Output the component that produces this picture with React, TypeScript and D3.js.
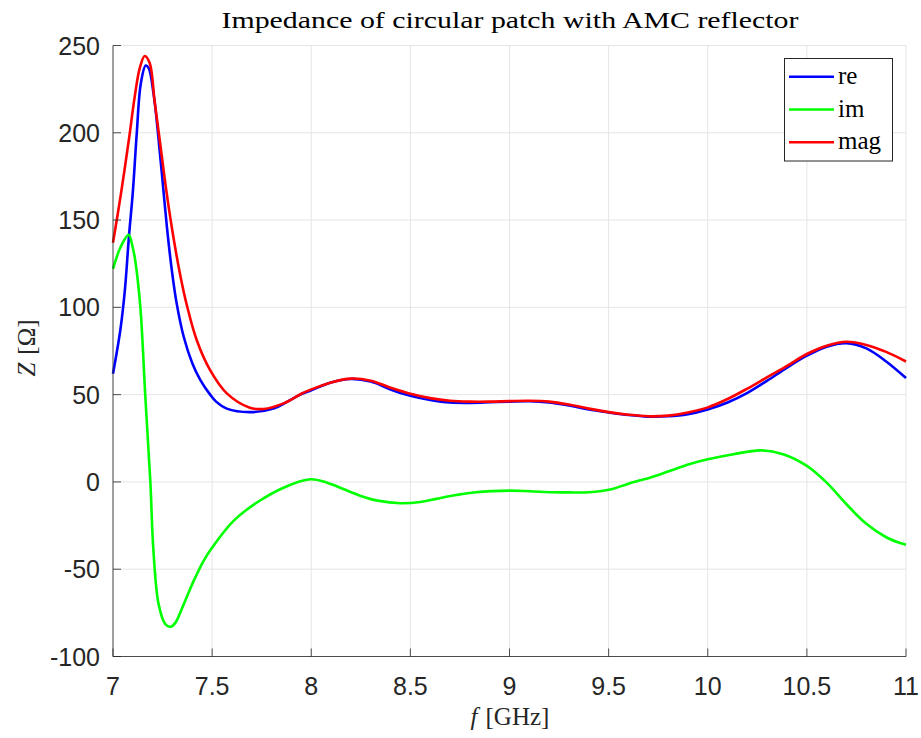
import React from "react";
import * as d3 from "d3";

const title = "Impedance of circular patch with AMC reflector";
const xTicks = [7, 7.5, 8, 8.5, 9, 9.5, 10, 10.5, 11];
const yTicks = [-100, -50, 0, 50, 100, 150, 200, 250];

const reFreq = [7.0, 7.037, 7.06, 7.08, 7.1, 7.12, 7.14, 7.165, 7.18, 7.205, 7.225, 7.247, 7.272, 7.297, 7.32, 7.357, 7.4, 7.44, 7.49, 7.52, 7.574, 7.69, 7.81, 7.88, 7.945, 8.0, 8.1, 8.2, 8.3, 8.4, 8.5, 8.6, 8.7, 8.8, 8.9, 9.0, 9.1, 9.2, 9.3, 9.4, 9.5, 9.6, 9.7, 9.8, 9.9, 10.0, 10.1, 10.2, 10.3, 10.4, 10.5, 10.6, 10.7, 10.8, 10.9, 11.0];
const reVals = [62, 87, 110, 140, 166, 200, 228, 238.5, 237, 222, 202, 176, 146, 121, 103, 83, 68, 58.5, 50, 46, 42, 40, 42, 46, 50, 52.5, 57, 59, 57.5, 53, 49.4, 47, 45.5, 45.3, 45.6, 46, 46.2, 45.5, 43.8, 41.5, 39.8, 38.3, 37.4, 37.6, 38.8, 41.5, 45.5, 51, 58, 65.5, 72.3, 77.5, 79.5, 76.5, 69, 59.5];

const imFreq = [7.0, 7.04, 7.079, 7.1, 7.112, 7.138, 7.163, 7.188, 7.204, 7.23, 7.264, 7.29, 7.315, 7.357, 7.407, 7.457, 7.5, 7.608, 7.726, 7.86, 7.995, 8.08, 8.14, 8.25, 8.335, 8.45, 8.55, 8.63, 8.73, 8.83, 9.0, 9.1, 9.22, 9.3, 9.4, 9.52, 9.6, 9.715, 9.8, 9.91, 10.0, 10.13, 10.265, 10.38, 10.5, 10.6, 10.7, 10.8, 10.9, 10.97, 11.0];
const imVals = [122, 135, 141.5, 134, 127, 100, 49, 1, -39.5, -70, -81.5, -83, -80.6, -70, -56.7, -45.2, -37.6, -22.3, -11.8, -3.3, 1.5, -0.4, -3, -8, -10.7, -12.2, -11.5, -9.7, -7.5, -5.9, -5, -5.3, -5.9, -6, -5.9, -4, -1, 2.7, 6, 10.3, 13, 15.9, 18.1, 15.9, 9.2, -0.4, -12.8, -24, -31.7, -35, -36];

const magFreq = [7.0, 7.04, 7.08, 7.11, 7.135, 7.16, 7.185, 7.21, 7.24, 7.27, 7.305, 7.34, 7.373, 7.423, 7.49, 7.574, 7.69, 7.76, 7.86, 7.95, 8.0, 8.1, 8.2, 8.3, 8.4, 8.5, 8.6, 8.7, 8.8, 8.9, 9.0, 9.1, 9.2, 9.3, 9.4, 9.5, 9.6, 9.7, 9.8, 9.9, 10.0, 10.1, 10.2, 10.3, 10.4, 10.5, 10.6, 10.7, 10.8, 10.9, 11.0];
const magVals = [137, 165, 196, 221, 237, 244, 240, 218, 192, 166, 140, 118, 101, 81, 64, 50.7, 42.5, 41.8, 45, 50.5, 53, 57, 59.2, 58, 54, 50.5, 48, 46.5, 46, 46, 46.3, 46.5, 46, 44.3, 42, 40, 38.5, 37.6, 38, 39.8, 42.7, 47.5, 53.5, 60, 66.5, 73.3, 78, 80.3, 78.5, 74.5, 69];

const seriesNames = ["re", "im", "mag"];
const seriesColors = ["#0000ff", "#00ff00", "#ff0000"];

export default function App() {
  const W = 921, H = 738;
  const left = 113, right = 906, top = 45.5, bottom = 656.5;
  const x = d3.scaleLinear().domain([7, 11]).range([left, right]);
  const y = d3.scaleLinear().domain([-100, 250]).range([bottom, top]);
  const series = [
    { f: reFreq, v: reVals },
    { f: imFreq, v: imVals },
    { f: magFreq, v: magVals },
  ];
  const line = d3
    .line<[number, number]>()
    .x((d) => x(d[0]))
    .y((d) => y(d[1]))
    .curve(d3.curveCatmullRom.alpha(0.5));
  const axisColor = "#262626";
  const gridColor = "#e5e5e5";
  const sans = "'Liberation Sans', Arial, sans-serif";
  const serif = "'Liberation Serif', 'DejaVu Serif', serif";
  return (
    <svg width={W} height={H} style={{ position: "absolute", left: 0, top: 0, background: "#fff" }}>
      <rect x={0} y={0} width={W} height={H} fill="#fff" />
      {xTicks.map((t) => (
        <line key={"gx" + t} x1={x(t)} x2={x(t)} y1={top} y2={bottom} stroke={gridColor} strokeWidth={1} />
      ))}
      {yTicks.map((t) => (
        <line key={"gy" + t} x1={left} x2={right} y1={y(t)} y2={y(t)} stroke={gridColor} strokeWidth={1} />
      ))}
      {series.map((s, i) => (
        <path
          key={"s" + i}
          d={line(s.f.map((f, j) => [f, s.v[j]] as [number, number])) || ""}
          fill="none"
          stroke={seriesColors[i]}
          strokeWidth={2.6}
          strokeLinejoin="round"
        />
      ))}
      <line x1={left} x2={left} y1={top} y2={bottom} stroke={axisColor} strokeWidth={1} opacity={0.8} />
      <line x1={left} x2={right} y1={bottom} y2={bottom} stroke={axisColor} strokeWidth={1} opacity={0.8} />
      {xTicks.map((t) => (
        <g key={"tx" + t}>
          <line x1={x(t)} x2={x(t)} y1={bottom} y2={bottom - 8} stroke={axisColor} opacity={0.8} />
          <text x={x(t)} y={695} textAnchor="middle" fontFamily={sans} fontSize={25} fill={axisColor}>
            {t}
          </text>
        </g>
      ))}
      {yTicks.map((t) => (
        <g key={"ty" + t}>
          <line x1={left} x2={left + 8} y1={y(t)} y2={y(t)} stroke={axisColor} opacity={0.8} />
          <text x={100} y={y(t) + 9} textAnchor="end" fontFamily={sans} fontSize={25} fill={axisColor}>
            {t}
          </text>
        </g>
      ))}
      <text x={510} y={28} textAnchor="middle" fontFamily={serif} fontSize={23} fill="#000" textLength={577} lengthAdjust="spacingAndGlyphs">
        {title}
      </text>
      <text x={510} y={725} textAnchor="middle" fontFamily={serif} fontSize={25} fill={axisColor}>
        <tspan fontStyle="italic">f</tspan>
        <tspan dx={8}>[GHz]</tspan>
      </text>
      <text
        transform={`translate(35, 348) rotate(-90)`}
        textAnchor="middle"
        fontFamily={serif}
        fontSize={25}
        fill={axisColor}
      >
        <tspan fontStyle="italic">Z</tspan>
        <tspan dx={8}>[Ω]</tspan>
      </text>
      <g>
        <rect x={784.5} y={58.5} width={108} height={102.5} fill="#fff" stroke={axisColor} strokeWidth={1} />
        {seriesNames.map((n, i) => {
          const yy = 76.7 + i * 32.8;
          return (
            <g key={"lg" + n}>
              <line x1={789} x2={834} y1={yy} y2={yy} stroke={seriesColors[i]} strokeWidth={2.6} />
              <text x={838} y={yy + 7} fontFamily={serif} fontSize={25} fill="#000">
                {n}
              </text>
            </g>
          );
        })}
      </g>
    </svg>
  );
}
